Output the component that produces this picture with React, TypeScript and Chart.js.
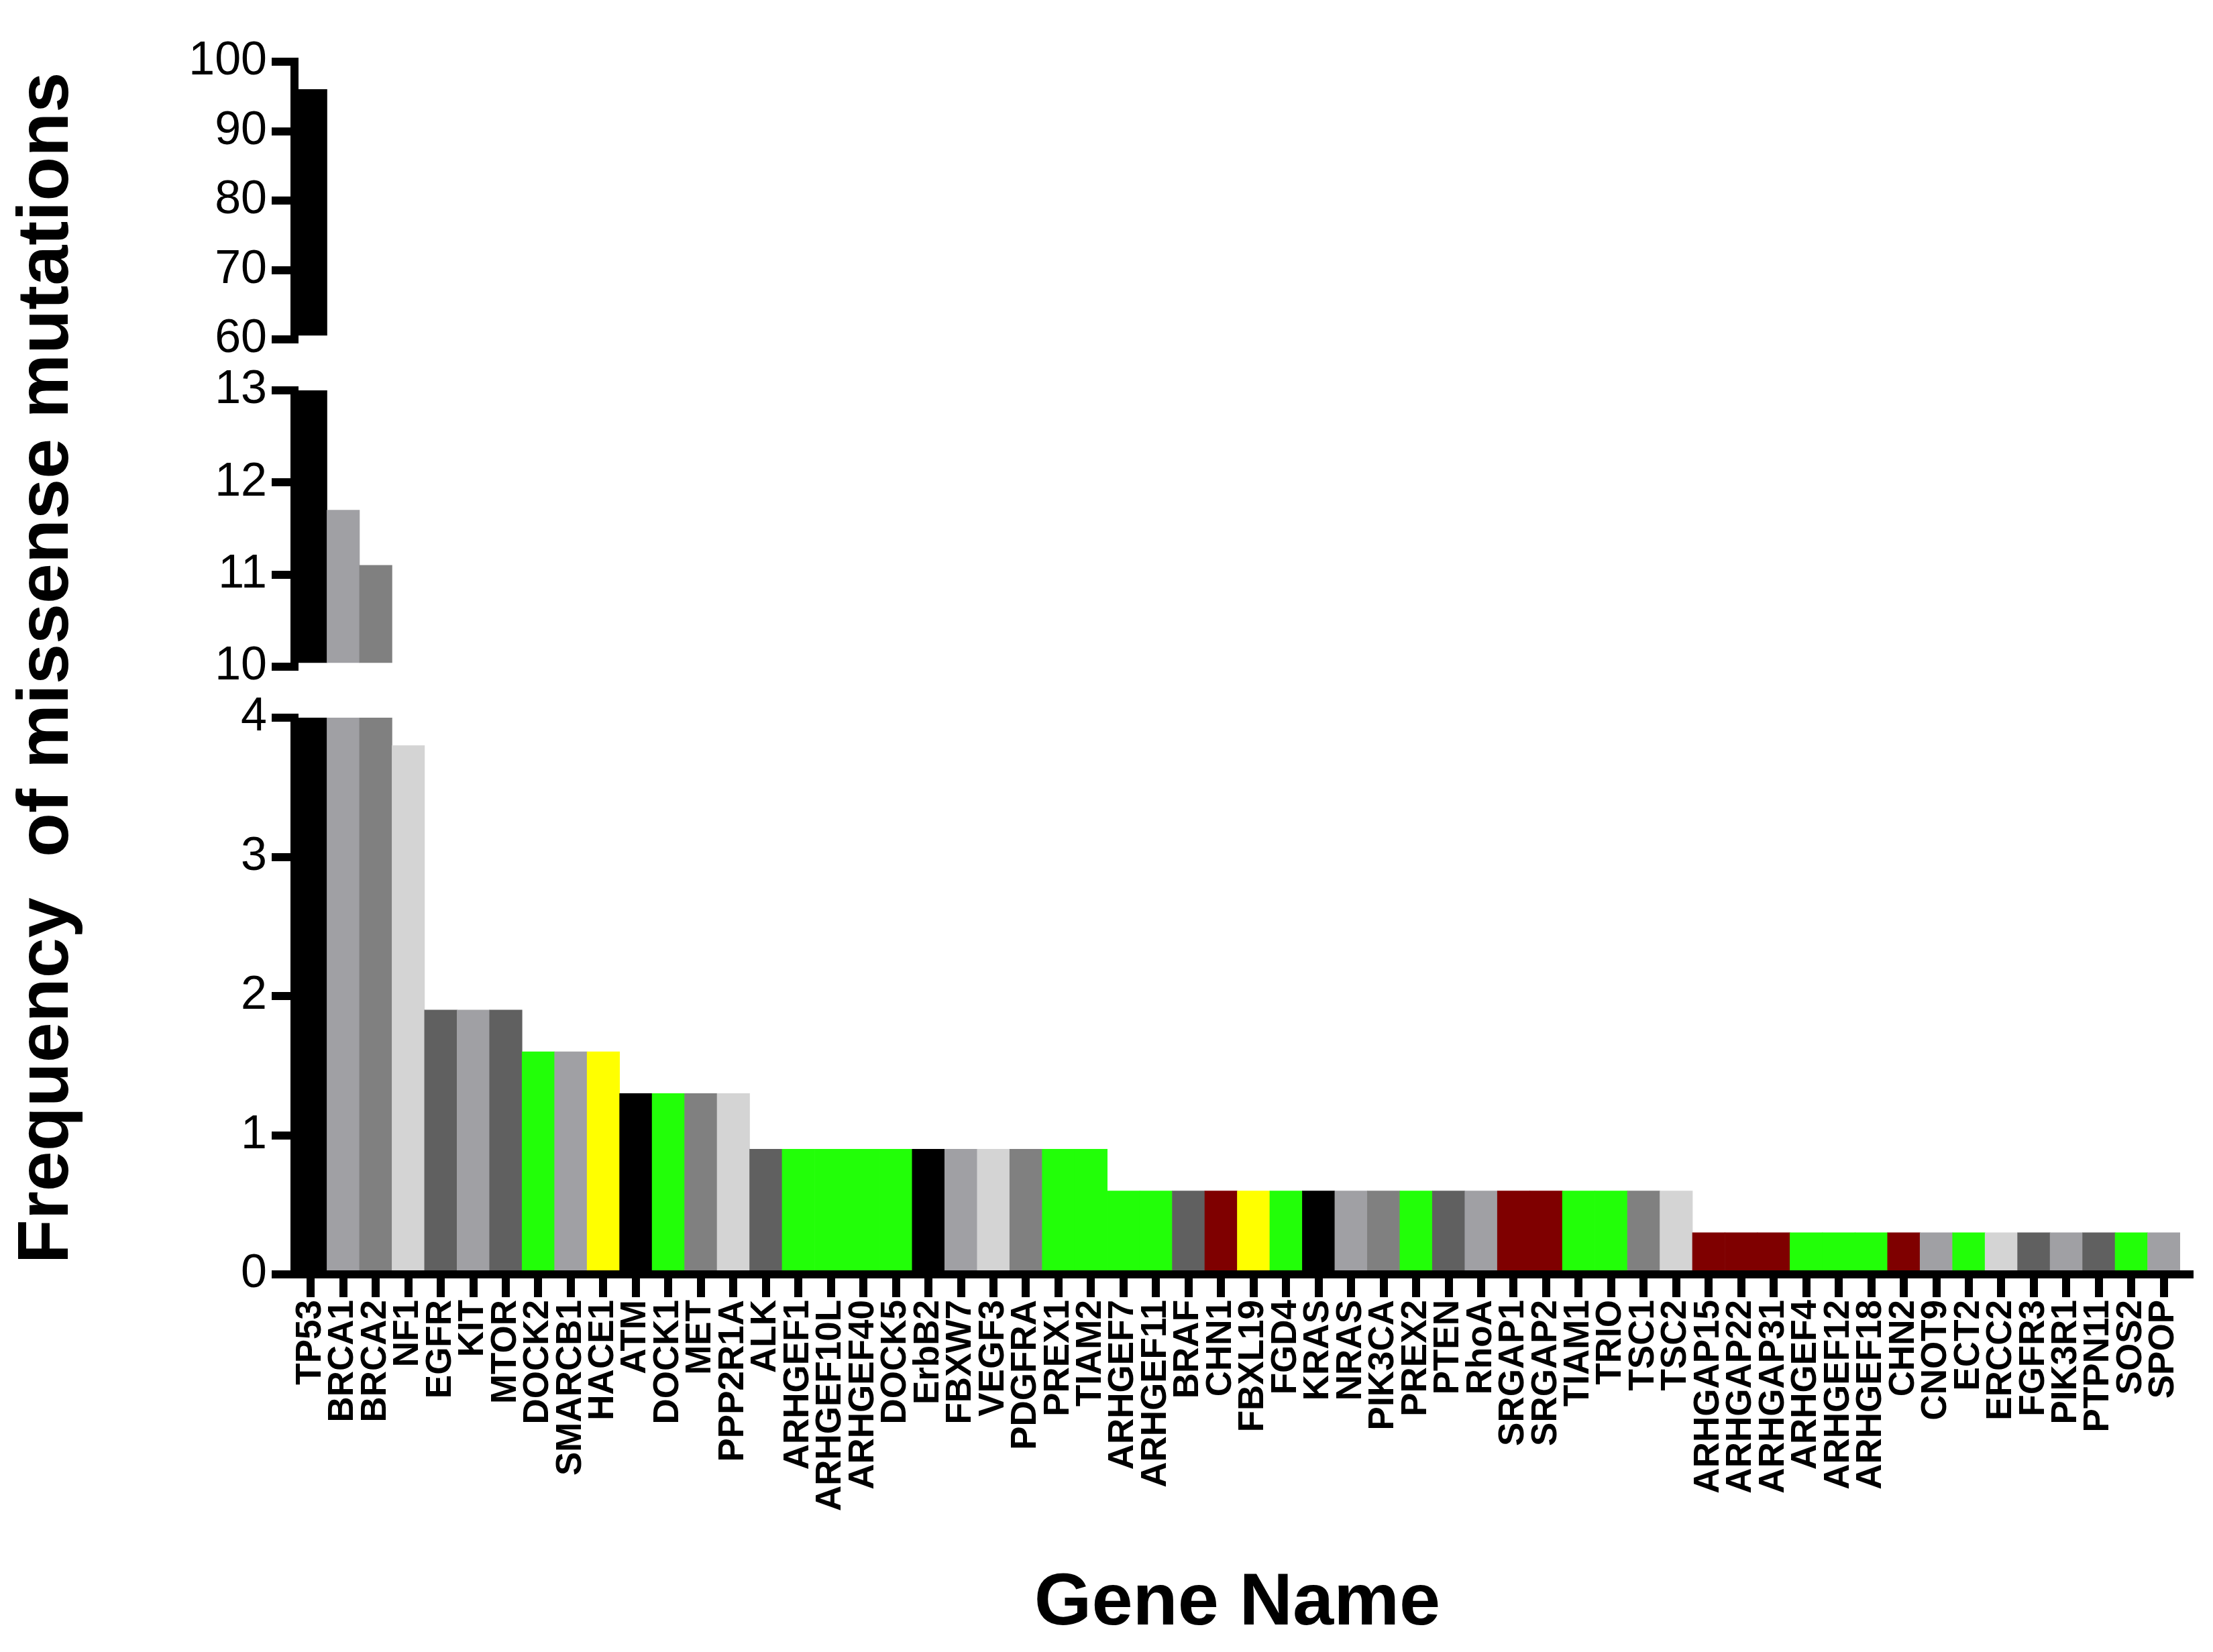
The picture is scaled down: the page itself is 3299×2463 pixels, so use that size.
import React, { useEffect, useRef } from 'react';
import { Chart, registerables } from 'chart.js';

Chart.register(...registerables);

// ---------------- data ----------------
const genes: string[] = [
  'TP53', 'BRCA1', 'BRCA2', 'NF1', 'EGFR', 'KIT', 'MTOR', 'DOCK2', 'SMARCB1', 'HACE1',
  'ATM', 'DOCK1', 'MET', 'PPP2R1A', 'ALK', 'ARHGEF1', 'ARHGEF10L', 'ARHGEF40', 'DOCK5', 'ErbB2',
  'FBXW7', 'VEGF3', 'PDGFRA', 'PREX1', 'TIAM2', 'ARHGEF7', 'ARHGEF11', 'BRAF', 'CHN1', 'FBXL19',
  'FGD4', 'KRAS', 'NRAS', 'PIK3CA', 'PREX2', 'PTEN', 'RhoA', 'SRGAP1', 'SRGAP2', 'TIAM1',
  'TRIO', 'TSC1', 'TSC2', 'ARHGAP15', 'ARHGAP22', 'ARHGAP31', 'ARHGEF4', 'ARHGEF12', 'ARHGEF18', 'CHN2',
  'CNOT9', 'ECT2', 'ERCC2', 'FGFR3', 'PIK3R1', 'PTPN11', 'SOS2', 'SPOP',
];

const frequencies: number[] = [
  96, 11.7, 11.1, 3.8, 1.9, 1.9, 1.9, 1.6, 1.6, 1.6,
  1.3, 1.3, 1.3, 1.3, 0.9, 0.9, 0.9, 0.9, 0.9, 0.9,
  0.9, 0.9, 0.9, 0.9, 0.9, 0.6, 0.6, 0.6, 0.6, 0.6,
  0.6, 0.6, 0.6, 0.6, 0.6, 0.6, 0.6, 0.6, 0.6, 0.6,
  0.6, 0.6, 0.6, 0.3, 0.3, 0.3, 0.3, 0.3, 0.3, 0.3,
  0.3, 0.3, 0.3, 0.3, 0.3, 0.3, 0.3, 0.3,
];

const BLACK = '#000000';
const GRAY_A = '#a0a0a4';
const GRAY_M = '#808080';
const GRAY_L = '#d4d4d4';
const GRAY_D = '#606060';
const GREEN = '#22ff08';
const YELLOW = '#ffff00';
const RED = '#7f0000';

const barColors: string[] = [
  BLACK, GRAY_A, GRAY_M, GRAY_L, GRAY_D, GRAY_A, GRAY_D, GREEN, GRAY_A, YELLOW,
  BLACK, GREEN, GRAY_M, GRAY_L, GRAY_D, GREEN, GREEN, GREEN, GREEN, BLACK,
  GRAY_A, GRAY_L, GRAY_M, GREEN, GREEN, GREEN, GREEN, GRAY_D, RED, YELLOW,
  GREEN, BLACK, GRAY_A, GRAY_M, GREEN, GRAY_D, GRAY_A, RED, RED, GREEN,
  GREEN, GRAY_M, GRAY_L, RED, RED, RED, GREEN, GREEN, GREEN, RED,
  GRAY_A, GREEN, GRAY_L, GRAY_D, GRAY_A, GRAY_D, GREEN, GRAY_A,
];

// broken-axis segments: [min, max, step]
const topSegment: number[] = [60, 100, 10];
const midSegment: number[] = [10, 13, 1];
const bottomSegment: number[] = [0, 4, 1];

const yTitle = 'Frequency  of missense mutations';
const xTitle = 'Gene Name';

// ---------------- layout ----------------
const W = 3299;
const H = 2463;
const FONT = "'Liberation Sans', Arial, Helvetica, sans-serif";
const TITLE_FONT_SIZE = 108;
const TITLE_PAD_TOP = 6;
const TITLE_BOX = TITLE_FONT_SIZE * 1.2 + TITLE_PAD_TOP;
const AXIS_LEFT = 439;
const Y_AXIS_WIDTH = AXIS_LEFT - TITLE_BOX;
const X_AXIS_HEIGHT = 563;

function valueAxis(seg: number[], weight: number, stackWeight: number) {
  return {
    type: 'linear',
    position: 'left',
    stack: 'y',
    stackWeight,
    weight,
    min: seg[0],
    max: seg[1],
    afterFit: (s: any) => { s.width = Y_AXIS_WIDTH; },
    ticks: {
      stepSize: seg[2],
      autoSkip: false,
      padding: 7,
      color: '#000',
      font: { family: FONT, size: 70, weight: 'normal' },
    },
    grid: {
      drawOnChartArea: false,
      drawTicks: true,
      tickLength: 34,
      tickWidth: 12,
      lineWidth: 12,
      color: '#000',
      tickColor: '#000',
    },
    border: { display: true, width: 12, color: '#000', z: 1 },
  };
}

function spacerAxis(weight: number, stackWeight: number) {
  return {
    type: 'linear',
    position: 'left',
    stack: 'y',
    stackWeight,
    weight,
    afterFit: (s: any) => { s.width = Y_AXIS_WIDTH; },
    ticks: { display: false },
    grid: { display: false },
    border: { display: false },
  };
}

export default function App() {
  const ref = useRef<HTMLCanvasElement | null>(null);

  useEffect(() => {
    if (!ref.current) return;
    const common = {
      barPercentage: 1,
      categoryPercentage: 1,
      grouped: false,
      borderWidth: 0,
      clip: 0,
      backgroundColor: barColors,
    };
    const chart = new Chart(ref.current, {
      type: 'bar',
      data: {
        labels: genes,
        datasets: [
          { ...common, label: 'low', data: frequencies, yAxisID: 'yBot' },
          {
            ...common,
            label: 'mid',
            data: frequencies.map((v) => (v >= midSegment[0] ? v : null)),
            base: midSegment[0],
            yAxisID: 'yMid',
          },
          {
            ...common,
            label: 'high',
            data: frequencies.map((v) => (v >= topSegment[0] ? v : null)),
            base: topSegment[0],
            yAxisID: 'yTop',
          },
        ] as any,
      },
      options: {
        animation: false,
        responsive: false,
        devicePixelRatio: 1,
        layout: { padding: { top: 92, left: 0, right: 49, bottom: 0 } },
        plugins: {
          legend: { display: false },
          tooltip: { enabled: false },
          title: {
            display: true,
            text: yTitle,
            position: 'left',
            fullSize: false,
            align: 'center',
            color: '#000',
            font: { family: FONT, size: TITLE_FONT_SIZE, weight: 'bold', lineHeight: 1.2 },
            padding: { top: TITLE_PAD_TOP, bottom: 0 },
          },
        },
        scales: {
          x: {
            type: 'category',
            offset: true,
            afterFit: (s: any) => { s.height = X_AXIS_HEIGHT; },
            grid: {
              offset: false,
              drawOnChartArea: false,
              drawTicks: true,
              tickLength: 34,
              tickWidth: 12,
              lineWidth: 40,
              color: '#000',
              tickColor: '#000',
            },
            border: { display: true, width: 12, color: '#000', z: 1 },
            ticks: {
              autoSkip: false,
              minRotation: 90,
              maxRotation: 90,
              padding: 4,
              color: '#000',
              font: { family: FONT, size: 53, weight: 'bold' },
            },
            title: {
              display: true,
              text: xTitle,
              color: '#000',
              font: { family: FONT, size: 110, weight: 'bold', lineHeight: 1.2 },
              padding: { top: 0, bottom: 5 },
            },
          },
          yTop: valueAxis(topSegment, 5, 414),
          gap1: spacerAxis(4, 76),
          yMid: valueAxis(midSegment, 3, 412),
          gap2: spacerAxis(2, 76),
          yBot: valueAxis(bottomSegment, 1, 830),
        } as any,
      },
    });
    return () => chart.destroy();
  }, []);

  return (
    <div style={{ position: 'absolute', left: 0, top: 0, width: W, height: H, background: '#fff' }}>
      <canvas ref={ref} width={W} height={H} style={{ width: W, height: H, display: 'block' }} />
    </div>
  );
}
